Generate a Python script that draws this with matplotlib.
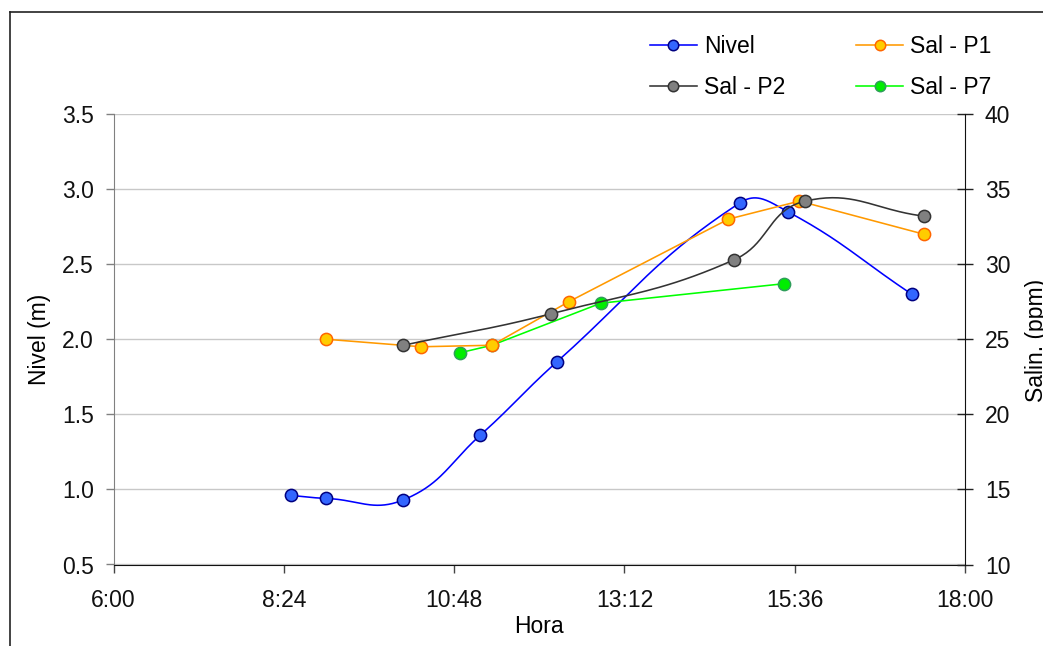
import numpy as np
import matplotlib
matplotlib.use("Agg")
import matplotlib.pyplot as plt
from matplotlib.lines import Line2D

plt.rcParams['font.family'] = ['Liberation Sans', 'DejaVu Sans']

# Water level (m) and salinity (ppm) readings over the day
nivel_hora = ["8:30", "9:00", "10:05", "11:10", "12:15", "14:50", "15:30", "17:15"]
nivel_m = [0.96, 0.94, 0.93, 1.36, 1.85, 2.91, 2.85, 2.30]

p1_hora = ["9:00", "10:20", "11:20", "12:25", "14:40", "15:40", "17:25"]
p1_sal = [25.0, 24.5, 24.6, 27.5, 33.0, 34.2, 32.0]

p2_hora = ["10:05", "12:10", "14:45", "15:45", "17:25"]
p2_sal = [24.6, 26.7, 30.3, 34.2, 33.2]

p7_hora = ["10:53", "11:20", "12:52", "15:27"]
p7_sal = [24.1, 24.6, 27.4, 28.7]

x_ticks = ["6:00", "8:24", "10:48", "13:12", "15:36", "18:00"]


def to_hours(labels):
    out = []
    for s in labels:
        h, m = s.split(":")
        out.append(int(h) + int(m) / 60.0)
    return np.array(out)


def smooth(ax_, x, y, n=40, k=0.42):
    """Smoothed line through the points, built as cubic Bezier segments in
    display space so the curvature does not depend on the axis units."""
    pts = ax_.transData.transform(np.column_stack([x, y]))
    m = len(pts)
    dirs = []
    for i in range(m):
        a = pts[max(i - 1, 0)]
        b = pts[min(i + 1, m - 1)]
        d = b - a
        nrm = np.hypot(*d)
        dirs.append(d / nrm if nrm > 0 else d)
    t = np.linspace(0, 1, n)[:, None]
    curve = []
    for i in range(m - 1):
        p1, p2 = pts[i], pts[i + 1]
        seg = np.hypot(*(p2 - p1))
        b1 = p1 + dirs[i] * seg * k
        b2 = p2 - dirs[i + 1] * seg * k
        c = ((1 - t) ** 3) * p1 + 3 * ((1 - t) ** 2) * t * b1 \
            + 3 * (1 - t) * t ** 2 * b2 + t ** 3 * p2
        curve.append(c)
    curve = np.vstack(curve)
    data = ax_.transData.inverted().transform(curve)
    return data[:, 0], data[:, 1]


fig = plt.figure(figsize=(10.43, 6.46), dpi=100)
ax = fig.add_axes([113.5 / 1043, (646 - 564.5) / 646, 851.5 / 1043, 450.5 / 646])
ax2 = ax.twinx()

xt = to_hours(x_ticks)
ax.set_xlim(6, 18)
ax.set_ylim(0.5, 3.5)
ax2.set_ylim(10, 40)

# outer frame lines
fig.add_artist(Line2D([9.5 / 1043, 9.5 / 1043], [0, 1 - 12 / 646],
                      transform=fig.transFigure, color='#222222', lw=1.2))
fig.add_artist(Line2D([9.5 / 1043, 1], [1 - 12 / 646, 1 - 12 / 646],
                      transform=fig.transFigure, color='#222222', lw=1.2))

lw = 1.15
ms = 8.8
mew = 1.1

# Nivel (smoothed)
xn = to_hours(nivel_hora)
sx, sy = smooth(ax, xn, nivel_m)
ax.plot(sx, sy, color='#0000ff', lw=lw, zorder=2)
ax.plot(xn, nivel_m, ls='none', marker='o', ms=ms, mfc='#3366ff', mec='#000080',
        mew=mew, zorder=3)

# Salinity P7 (straight segments)
x7 = to_hours(p7_hora)
ax2.plot(x7, p7_sal, color='#00ff00', lw=lw, marker='o', ms=ms, mfc='#00ee00',
         mec='#2e9e5a', mew=mew, zorder=3)
# Salinity P1
x1 = to_hours(p1_hora)
ax2.plot(x1, p1_sal, color='#ff9900', lw=lw, marker='o', ms=ms, mfc='#ffcc00',
         mec='#ff6600', mew=mew, zorder=4)
# Salinity P2 (smoothed)
x2 = to_hours(p2_hora)
sx2, sy2 = smooth(ax2, x2, p2_sal)
ax2.plot(sx2, sy2, color='#333333', lw=lw, zorder=5)
ax2.plot(x2, p2_sal, ls='none', marker='o', ms=ms, mfc='#808080', mec='#333333',
         mew=mew, zorder=6)

# keep the level curve underneath the salinity curves
ax2.set_zorder(ax.get_zorder() + 1)
ax2.patch.set_visible(False)

ax.set_xticks(xt)
ax.set_xticklabels(x_ticks)
ax.set_yticks(np.arange(0.5, 3.51, 0.5))
ax.set_yticklabels([f"{v:.1f}" for v in np.arange(0.5, 3.51, 0.5)])
ax2.set_yticks(np.arange(10, 41, 5))

ax.yaxis.grid(True, color='#c8c8c8', lw=1.0)
ax.set_axisbelow(True)

fs = 16.5
ax.tick_params(axis='both', labelsize=fs, labelcolor='#111111')
ax.tick_params(axis='y', direction='out', length=5.5, width=1, color='#808080', pad=8.5)
ax.tick_params(axis='x', direction='out', length=5.8, width=1, color='#444444', pad=12)
ax2.tick_params(axis='y', direction='inout', length=11.5, width=1, labelsize=fs,
                labelcolor='#111111', color='#222222', pad=8.5)

for a in (ax, ax2):
    a.spines['top'].set_visible(False)
ax.spines['left'].set_color('#808080')
ax.spines['right'].set_visible(False)
ax2.spines['left'].set_visible(False)
ax2.spines['bottom'].set_visible(False)
ax2.spines['right'].set_color('#111111')
ax.spines['bottom'].set_color('#111111')

ax.set_xlabel("Hora", fontsize=fs, labelpad=2)
ax.set_ylabel("Nivel (m)", fontsize=fs, labelpad=8)
# right-hand axis title, running past the figure's right edge
fig.text(1037 / 1043, 1 - 340 / 646, "Salin. (ppm)", rotation=90, fontsize=fs,
         ha='center', va='center')

lms = 7.5
handles = [
    Line2D([], [], color='#0000ff', lw=lw, marker='o', ms=lms, mfc='#3366ff', mec='#000080', mew=mew),
    Line2D([], [], color='#333333', lw=lw, marker='o', ms=lms, mfc='#808080', mec='#333333', mew=mew),
    Line2D([], [], color='#ff9900', lw=lw, marker='o', ms=lms, mfc='#ffcc00', mec='#ff6600', mew=mew),
    Line2D([], [], color='#00ff00', lw=lw, marker='o', ms=lms, mfc='#00ee00', mec='#2e9e5a', mew=mew),
]
labels = ["Nivel", "Sal - P2", "Sal - P1", "Sal - P7"]
fig.legend(handles, labels, ncol=2, loc='upper left',
           bbox_to_anchor=(650 / 1043, 1 - 35 / 646), frameon=False,
           fontsize=fs, handlelength=2.05, handletextpad=0.3,
           columnspacing=3.1, labelspacing=0.8, borderpad=0, borderaxespad=0)

fig.savefig("out.png", dpi=100)
